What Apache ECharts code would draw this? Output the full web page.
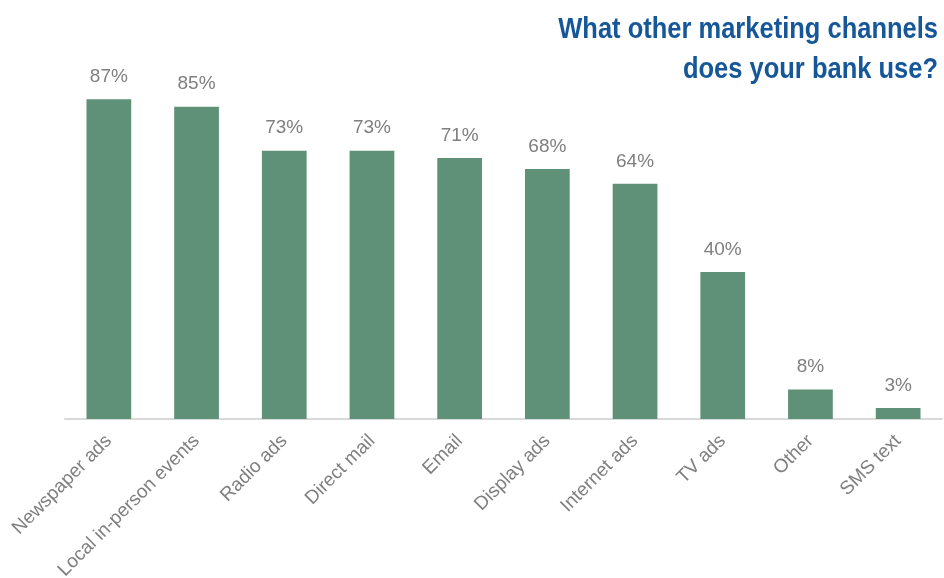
<!DOCTYPE html>
<html>
<head>
<meta charset="utf-8">
<script src="https://cdn.jsdelivr.net/npm/echarts@6/dist/echarts.min.js"></script>
<style>
  html, body { margin: 0; padding: 0; background: #ffffff; }
  #chart { width: 944px; height: 578px; }
</style>
</head>
<body>
<div id="chart"></div>
<script>
// Share of banks using each marketing channel (%)
const channels = ['Newspaper ads', 'Local in-person events', 'Radio ads', 'Direct mail', 'Email',
  'Display ads', 'Internet ads', 'TV ads', 'Other', 'SMS text'];
const shares = [87, 85, 73, 73, 71, 68, 64, 40, 8, 3];
const titleLines = ['What other marketing channels', 'does your bank use?'];

const chart = echarts.init(document.getElementById('chart'), null, { renderer: 'canvas' });

// Right-aligned, horizontally condensed heading lines
const titleElements = titleLines.map((line, i) => ({
  type: 'text',
  x: 938,
  y: 15 + i * 40,
  scaleX: 0.85,
  silent: true,
  style: {
    text: line,
    x: 0,
    y: 0,
    textAlign: 'right',
    textVerticalAlign: 'top',
    fill: '#155799',
    font: 'bold 30px "Liberation Sans", Arial, sans-serif'
  }
}));

chart.setOption({
  backgroundColor: '#ffffff',
  animation: false,
  graphic: titleElements,
  grid: { left: 65, right: 2, top: 51.5, bottom: 159, outerBoundsMode: 'none', containLabel: false },
  xAxis: {
    type: 'category',
    data: channels,
    axisLine: { lineStyle: { color: '#d9d9d9', width: 2 } },
    axisTick: { show: false },
    axisLabel: {
      rotate: 45,
      interval: 0,
      margin: 19,
      color: '#7f7f7f',
      fontSize: 19,
      fontFamily: '"Liberation Sans", Arial, sans-serif'
    }
  },
  yAxis: {
    type: 'value',
    min: 0,
    max: 100,
    show: false,
    splitLine: { show: false }
  },
  series: [{
    type: 'bar',
    data: shares,
    barWidth: '51%',
    itemStyle: { color: '#5f9179' },
    label: {
      show: true,
      position: 'top',
      distance: 13,
      formatter: '{c}%',
      color: '#7f7f7f',
      fontSize: 19,
      fontFamily: '"Liberation Sans", Arial, sans-serif'
    }
  }]
});
</script>
</body>
</html>
